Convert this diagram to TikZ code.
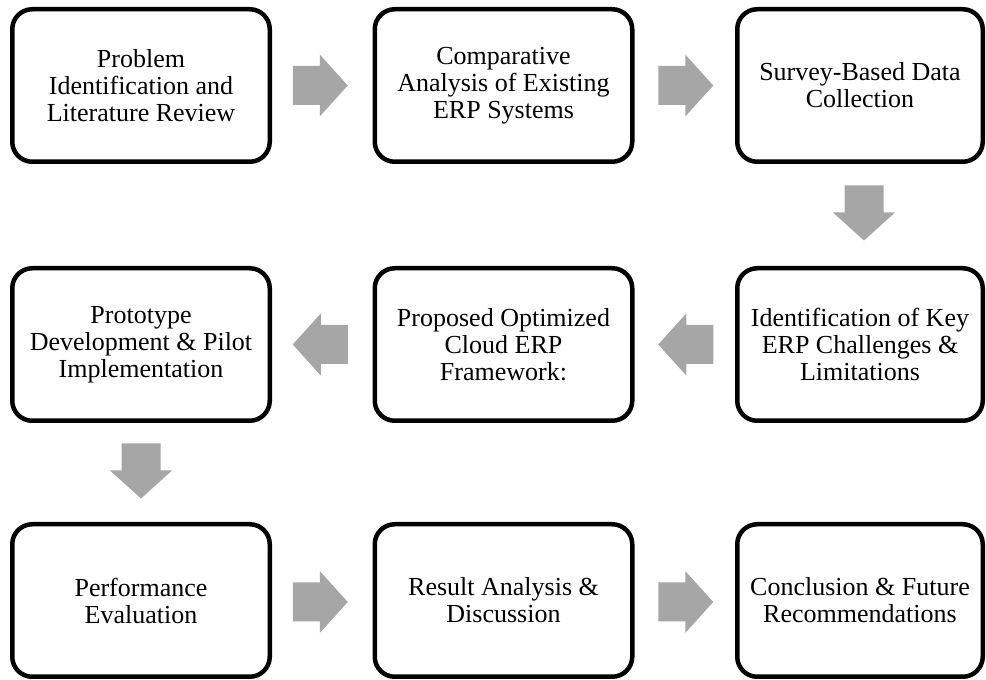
\documentclass[tikz,border=0pt]{standalone}
\usepackage{fontspec}
\setmainfont{Liberation Serif}
\usetikzlibrary{calc}
\definecolor{arrowgray}{RGB}{166,166,166}
\tikzset{
  stepbox/.style={draw=black, line width=4.5pt, rounded corners=20pt, fill=white,
    minimum width=257.5pt, minimum height=152.5pt, align=center, inner sep=0pt,
    font=\fontsize{26}{27}\selectfont},
  narrowbox/.style={stepbox, minimum width=245.5pt},
  garrow/.pic={\fill[arrowgray] (-27.5,-19.5) -- (-0.5,-19.5) -- (-0.5,-31) -- (27.5,0) -- (-0.5,31) -- (-0.5,19.5) -- (-27.5,19.5) -- cycle;}
}
\begin{document}
\begin{tikzpicture}[x=1pt,y=1pt]
\useasboundingbox (0,0) rectangle (986,680);
% row 1
\node[stepbox] (a1) at (141,594.5) {Problem\\Identification and\\Literature Review};
\node[stepbox] (a2) at (503.5,594.5) {Comparative\\Analysis of Existing\\ERP Systems};
\node[narrowbox] (a3) at (860,594.5) {Survey-Based Data\\Collection};
% row 2
\node[stepbox] (b1) at (141,335.5) {Prototype\\Development \& Pilot\\Implementation};
\node[stepbox] (b2) at (503.5,335.5) {Proposed Optimized\\Cloud ERP\\Framework:};
\node[narrowbox] (b3) at (860,335.5) {Identification of Key\\ERP Challenges \&\\Limitations};
% row 3
\node[stepbox] (c1) at (141,79.5) {Performance\\Evaluation};
\node[stepbox] (c2) at (503.5,79.5) {Result Analysis \&\\Discussion};
\node[narrowbox] (c3) at (860,79.5) {Conclusion \& Future\\Recommendations};
% arrows
\pic at ($(a1.east)!0.5!(a2.west)+(-2,0)$) {garrow};
\pic at ($(a2.east)!0.5!(a3.west)+(1,0)$) {garrow};
\pic[rotate=-90] at ($(a3.south)!0.5!(b3.north)+(4,2)$) {garrow};
\pic[rotate=180] at ($(b3.west)!0.5!(b2.east)+(1,0)$) {garrow};
\pic[rotate=180] at ($(b2.west)!0.5!(b1.east)+(-2,0)$) {garrow};
\pic[rotate=-90] at ($(b1.south)!0.5!(c1.north)+(0,1.5)$) {garrow};
\pic at ($(c1.east)!0.5!(c2.west)+(-2,-1.5)$) {garrow};
\pic at ($(c2.east)!0.5!(c3.west)+(1,-1.5)$) {garrow};
\end{tikzpicture}
\end{document}
